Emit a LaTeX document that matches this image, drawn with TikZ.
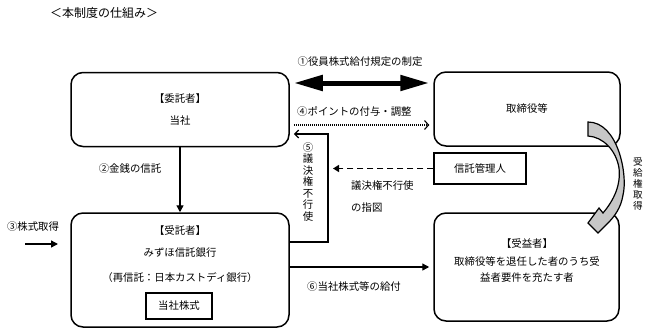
\documentclass[tikz,border=0pt]{standalone}
\usepackage{fontspec}
\setmainfont{Noto Sans CJK JP}
\usetikzlibrary{arrows.meta}
\tikzset{
  rbox/.style={draw, line width=1.5pt, rounded corners=12pt, inner sep=0pt},
  sbox/.style={draw, line width=1.3pt, inner sep=0pt},
  txt/.style={inner sep=0pt, font=\fontsize{10.4}{12}\selectfont},
  conn/.style={line width=1.4pt},
  solidhead/.style={conn, -{Triangle[length=7pt,width=7pt]}},
  barbhead/.style={conn, -{Straight Barb[length=4pt,width=8pt]}},
  bigarrow/.style={line width=5pt, {Triangle[length=29pt,width=15pt]}-{Triangle[length=29pt,width=15pt]}},
}
\begin{document}
\begin{tikzpicture}[x=1pt,y=-1pt]
\useasboundingbox (0,0) rectangle (648,332);
% title
\node[txt, anchor=west, font=\fontsize{12}{14}\selectfont] (title) at (50,13) {＜本制度の仕組み＞};
% boxes
\node[rbox, minimum width=218pt, minimum height=74pt] (itaku) at (180,109.5) {};
\node[rbox, minimum width=186pt, minimum height=74pt] (tori) at (527,109) {};
\node[sbox, minimum width=92pt, minimum height=31pt] (kanri) at (480,168.5) {};
\node[rbox, minimum width=218pt, minimum height=114pt] (jutaku) at (180,270) {};
\node[sbox, minimum width=66pt, minimum height=26pt] (kabu) at (179,306) {};
\node[rbox, minimum width=185pt, minimum height=108pt] (juek) at (526.5,267) {};
% texts in boxes
\node[txt] (t1a) at (180,99) {【委託者】};
\node[txt] (t1b) at (180,121) {当社};
\node[txt] (t2) at (527,109) {取締役等};
\node[txt] (t3) at (480,168.5) {信託管理人};
\node[txt] (t4a) at (180,231) {【受託者】};
\node[txt] (t4b) at (180,253) {みずほ信託銀行};
\node[txt] (t4c) at (180,278) {（再信託：日本カストディ銀行）};
\node[txt] (t4d) at (179,306) {当社株式};
\node[txt] (t5a) at (527,244) {【受益者】};
\node[txt] (t5b) at (527,262) {取締役等を退任した者のうち受};
\node[txt] (t5c) at (527,278) {益者要件を充たす者};
% labels
\node[txt] (l1) at (360,62) {①役員株式給付規定の制定};
\node[txt, anchor=west] (l4) at (297,112) {④ポイントの付与・調整};
\node[txt] (l2) at (130,169) {②金銭の信託};
\node[txt] (l3) at (33,227) {③株式取得};
\node[txt, align=center, font=\fontsize{10.4}{11.5}\selectfont] (l5) at (308,182) {⑤\\議\\決\\権\\不\\行\\使};
\node[txt, anchor=west] (l7a) at (351,186) {議決権不行使};
\node[txt, anchor=west] (l7b) at (351,208) {の指図};
\node[txt, anchor=west] (l6) at (307,287) {⑥当社株式等の給付};
\node[txt, align=center, font=\fontsize{9.6}{11}\selectfont] (l8) at (638,184) {受\\給\\権\\取\\得};
% coordinates
\coordinate (c1) at (0,83);
\coordinate (c4) at (0,125);
\coordinate (k5a) at (328,242);
\coordinate (k5b) at (328,134);
\coordinate (s3) at (25,244);
\coordinate (e3) at (58,244);
% connectors
\draw[bigarrow, shorten <=4pt, shorten >=4pt] (itaku.east |- c1) -- (tori.west |- c1);
\draw[line width=1.1pt, dash pattern=on 1pt off 1pt, -{Straight Barb[length=4pt,width=9pt]}, shorten <=4pt, shorten >=4pt] (itaku.east |- c4) -- (tori.west |- c4);
\draw[barbhead, shorten >=4pt] (jutaku.east |- k5a) -- (k5a) -- (k5b) -- (itaku.east |- k5b);
\draw[conn, dash pattern=on 6pt off 4pt, -{Triangle[length=6pt,width=7pt]}, shorten >=5pt] (kanri.west) -- (k5b |- kanri.west);
\draw[solidhead] (itaku.south) -- (jutaku.north);
\draw[solidhead] (s3) -- (e3);
\draw[solidhead, shorten >=4pt] (jutaku.east |- juek.west) -- (juek.west);
% curved arrow
\draw[line width=1.2pt, fill=black!22, line join=miter]
  (588,122) .. controls (618,122) and (628,175) .. (623,195)
  .. controls (621,208) and (614,217) .. (608,223)
  -- (598,233) -- (588,223) -- (599,208) -- (603,213)
  .. controls (614,200) and (621,185) .. (619,168)
  .. controls (616,150) and (603,137) .. (588,136) -- cycle;
\end{tikzpicture}
\end{document}
